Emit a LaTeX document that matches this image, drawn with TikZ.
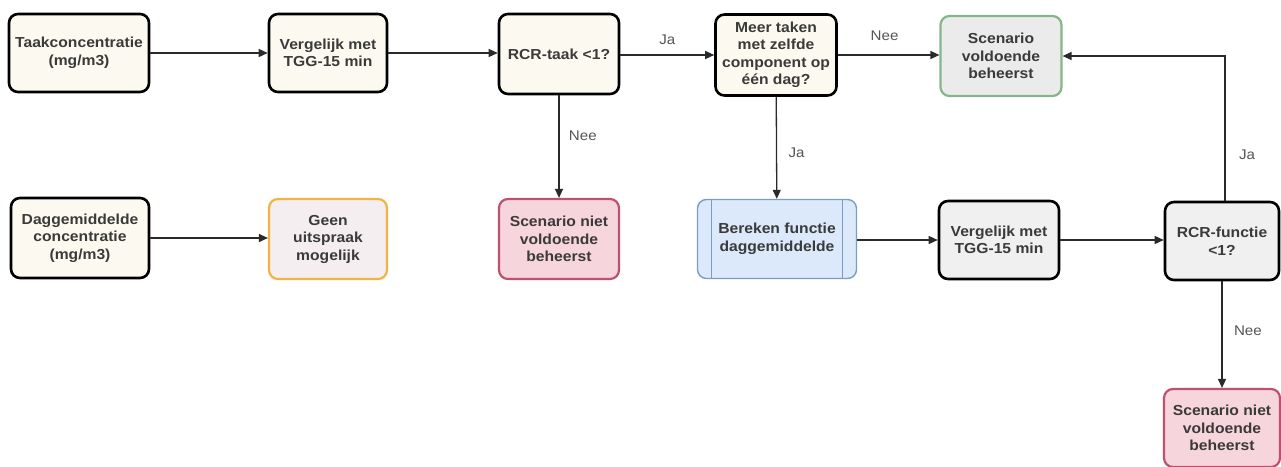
\documentclass[tikz,border=0pt]{standalone}
\usepackage{fontspec}
\setmainfont[FakeStretch=1.08]{Liberation Sans}
\usetikzlibrary{arrows.meta}
\definecolor{cream}{HTML}{FCFAF0}
\definecolor{txt}{HTML}{3A3A3A}
\definecolor{lgrey}{HTML}{F0F0F0}
\definecolor{gborder}{HTML}{86B58A}
\definecolor{gfill}{HTML}{EBEBEB}
\definecolor{oborder}{HTML}{F0B445}
\definecolor{ofill}{HTML}{F4EEF0}
\definecolor{rborder}{HTML}{BD5270}
\definecolor{rfill}{HTML}{F7D5DD}
\definecolor{bborder}{HTML}{7C9CC4}
\definecolor{bfill}{HTML}{DCE9FA}
\definecolor{lbl}{HTML}{555555}
\definecolor{edge}{HTML}{2A2A2A}
\tikzset{
  box/.style={draw=black, line width=2.6pt, rounded corners=9pt, fill=cream,
    align=center, text=txt, inner sep=2pt,
    font=\fontsize{14.5}{17.5}\selectfont\bfseries},
  greybox/.style={box, fill=lgrey},
  greenbox/.style={box, draw=gborder, fill=gfill, line width=2.2pt},
  orangebox/.style={box, draw=oborder, fill=ofill, line width=2.2pt},
  redbox/.style={box, draw=rborder, fill=rfill, line width=2.2pt},
  bluebox/.style={box, draw=bborder, fill=bfill, line width=1.4pt},
  conn/.style={draw=edge, line width=1.3pt, -{Triangle[length=9pt,width=8pt]}},
  lab/.style={text=lbl, font=\fontsize{14}{16}\selectfont}
}
\begin{document}
\begin{tikzpicture}[x=1pt,y=-1pt]
\useasboundingbox[fill=white] (0,0) rectangle (1281,466);
% top row
\node[box, minimum width=140pt, minimum height=78pt] (tc) at (79,53) {Taakconcentratie\\(mg/m3)};
\node[box, minimum width=118pt, minimum height=78pt] (v1) at (328,53) {Vergelijk met\\TGG-15 min};
\node[box, minimum width=120pt, minimum height=80pt] (rt) at (559,54) {RCR-taak <1?};
\node[box, minimum width=121pt, minimum height=81pt] (mt) at (776,55) {Meer taken\\met zelfde\\component op\\één dag?};
\node[greenbox, minimum width=121pt, minimum height=80pt] (sv) at (1001,56) {Scenario\\voldoende\\beheerst};
% bottom row
\node[box, minimum width=138pt, minimum height=80pt] (dc) at (80,238) {Daggemiddelde\\concentratie\\(mg/m3)};
\node[orangebox, minimum width=118pt, minimum height=80pt] (gu) at (328,239) {Geen\\uitspraak\\mogelijk};
\node[redbox, minimum width=120pt, minimum height=80pt] (sn1) at (559,239) {Scenario niet\\voldoende\\beheerst};
\node[bluebox, minimum width=159pt, minimum height=79pt] (bf) at (777,239) {Bereken functie\\daggemiddelde};
\draw[draw=bborder, line width=1.2pt] ([xshift=15pt]bf.north west) -- ([xshift=15pt]bf.south west);
\draw[draw=bborder, line width=1.2pt] ([xshift=-15pt]bf.north east) -- ([xshift=-15pt]bf.south east);
\node[greybox, minimum width=120pt, minimum height=78pt] (v2) at (999,240) {Vergelijk met\\TGG-15 min};
\node[greybox, minimum width=114pt, minimum height=78pt] (rf) at (1222,241) {RCR-functie\\<1?};
\node[redbox, minimum width=116pt, minimum height=78pt] (sn2) at (1222,428) {Scenario niet\\voldoende\\beheerst};
% connectors
\draw[conn] (tc) -- (v1);
\draw[conn] (v1.east) -- (rt.west |- v1.east);
\draw[conn] (rt.east |- mt.west) -- node[lab, above=6pt] (ja1) {Ja} (mt.west);
\draw[conn] (mt.east) -- node[lab, above=10pt, pos=0.46] (nee1) {Nee} (sv.west |- mt.east);
\draw[conn] (rt) -- node[lab, right=6pt, pos=0.39] (nee2) {Nee} (sn1);
\draw[conn] (mt) -- node[lab, right=8pt, pos=0.55] (ja2) {Ja} (bf);
\draw[conn] (dc.east) -- (gu.west |- dc.east);
\draw[conn] (bf.east |- v2.west) -- (v2.west);
\draw[conn] (v2) -- (rf.west |- v2.east);
\draw[conn] (rf) -- node[lab, right=8pt, pos=0.46] (nee3) {Nee} (sn2);
\draw[conn] ([xshift=3pt]rf.north) |- node[lab, right=10pt, pos=0.16] (ja3) {Ja} (sv.east);
\end{tikzpicture}
\end{document}
